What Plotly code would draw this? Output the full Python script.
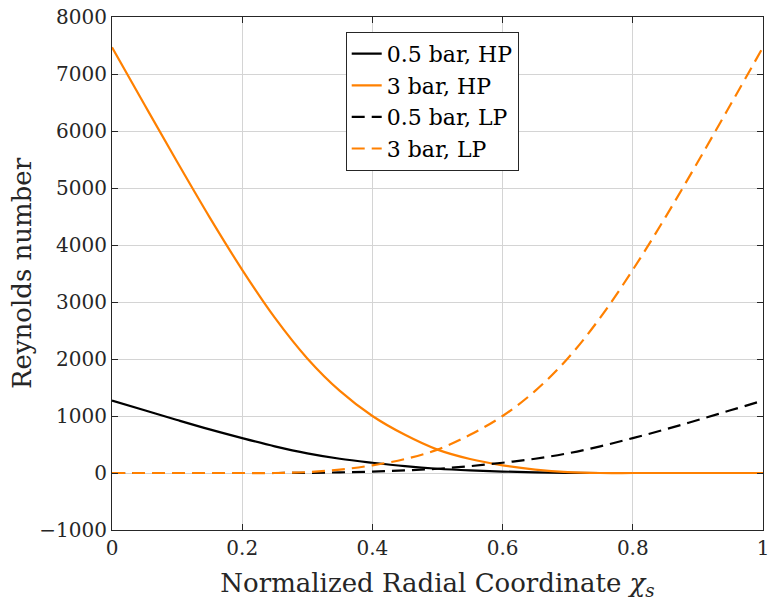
import plotly.graph_objects as go

x_vals = [0.0, 0.05, 0.1, 0.15, 0.2, 0.25, 0.3, 0.35, 0.4, 0.45, 0.5,
          0.55, 0.6, 0.65, 0.7, 0.75, 0.8, 0.85, 0.9, 0.95, 1.0]

re_05bar_hp = [1270, 1100, 930, 765, 612, 468, 345, 250, 180, 120, 75,
               45, 25, 11, 3, 0, 0, 0, 0, 0, 0]
re_3bar_hp = [7470, 6460, 5460, 4485, 3565, 2725, 2010, 1440, 1000, 670, 410,
              245, 135, 60, 15, 0, 0, 0, 0, 0, 0]
re_05bar_lp = [0, 0, 0, 0, 0, 0, 3, 11, 25, 45, 75,
               120, 180, 250, 345, 468, 612, 765, 930, 1100, 1270]
re_3bar_lp = [0, 0, 0, 0, 0, 0, 15, 60, 135, 245, 410,
              670, 1000, 1440, 2010, 2725, 3565, 4485, 5460, 6460, 7470]

series_names = ["0.5 bar, HP", "3 bar, HP", "0.5 bar, LP", "3 bar, LP"]
x_ticks = [0, 0.2, 0.4, 0.6, 0.8, 1]
x_tick_labels = ["0", "0.2", "0.4", "0.6", "0.8", "1"]
y_ticks = [-1000, 0, 1000, 2000, 3000, 4000, 5000, 6000, 7000, 8000]

ORANGE = "#ff8000"
BLACK = "#000000"
FONT = "DejaVu Serif"

fig = go.Figure()
styles = [
    (re_05bar_hp, BLACK, "solid"),
    (re_3bar_hp, ORANGE, "solid"),
    (re_05bar_lp, BLACK, "13px,7px"),
    (re_3bar_lp, ORANGE, "13px,7px"),
]
for name, (yv, col, dash) in zip(series_names, styles):
    fig.add_trace(go.Scatter(
        x=x_vals, y=yv, mode="lines", name=name,
        line=dict(color=col, width=2.2, dash=dash, shape="spline", smoothing=1.0),
    ))

axis_common = dict(
    showline=True, linecolor="#262626", linewidth=1, mirror="ticks",
    ticks="inside", ticklen=6, tickcolor="#262626",
    showgrid=True, gridcolor="#d4d4d4", gridwidth=1,
    zeroline=False,
    tickfont=dict(family=FONT, size=20, color="#262626"),
)

fig.update_layout(
    width=774, height=603,
    margin=dict(l=112, r=5, t=17, b=73),
    paper_bgcolor="white", plot_bgcolor="white",
    font=dict(family=FONT, color="#262626"),
    xaxis=dict(range=[0, 1], tickvals=x_ticks, ticktext=x_tick_labels,
               ticklabeloverflow="allow",
               title=dict(text="Normalized Radial Coordinate <i>χ<sub>s</sub></i>",
                          font=dict(family=FONT, size=26, color="#262626"), standoff=14),
               **axis_common),
    yaxis=dict(range=[-1000, 8000], tickvals=y_ticks,
               title=dict(text="Reynolds number",
                          font=dict(family=FONT, size=26, color="#262626"), standoff=0),
               **axis_common),
    legend=dict(x=0.359, y=0.971, xanchor="left", yanchor="top",
                bgcolor="white", bordercolor="#262626", borderwidth=1,
                font=dict(family=FONT, size=22, color="#000000"),
                tracegroupgap=0, itemwidth=30),
    showlegend=True,
)

fig.write_html("out.html")
